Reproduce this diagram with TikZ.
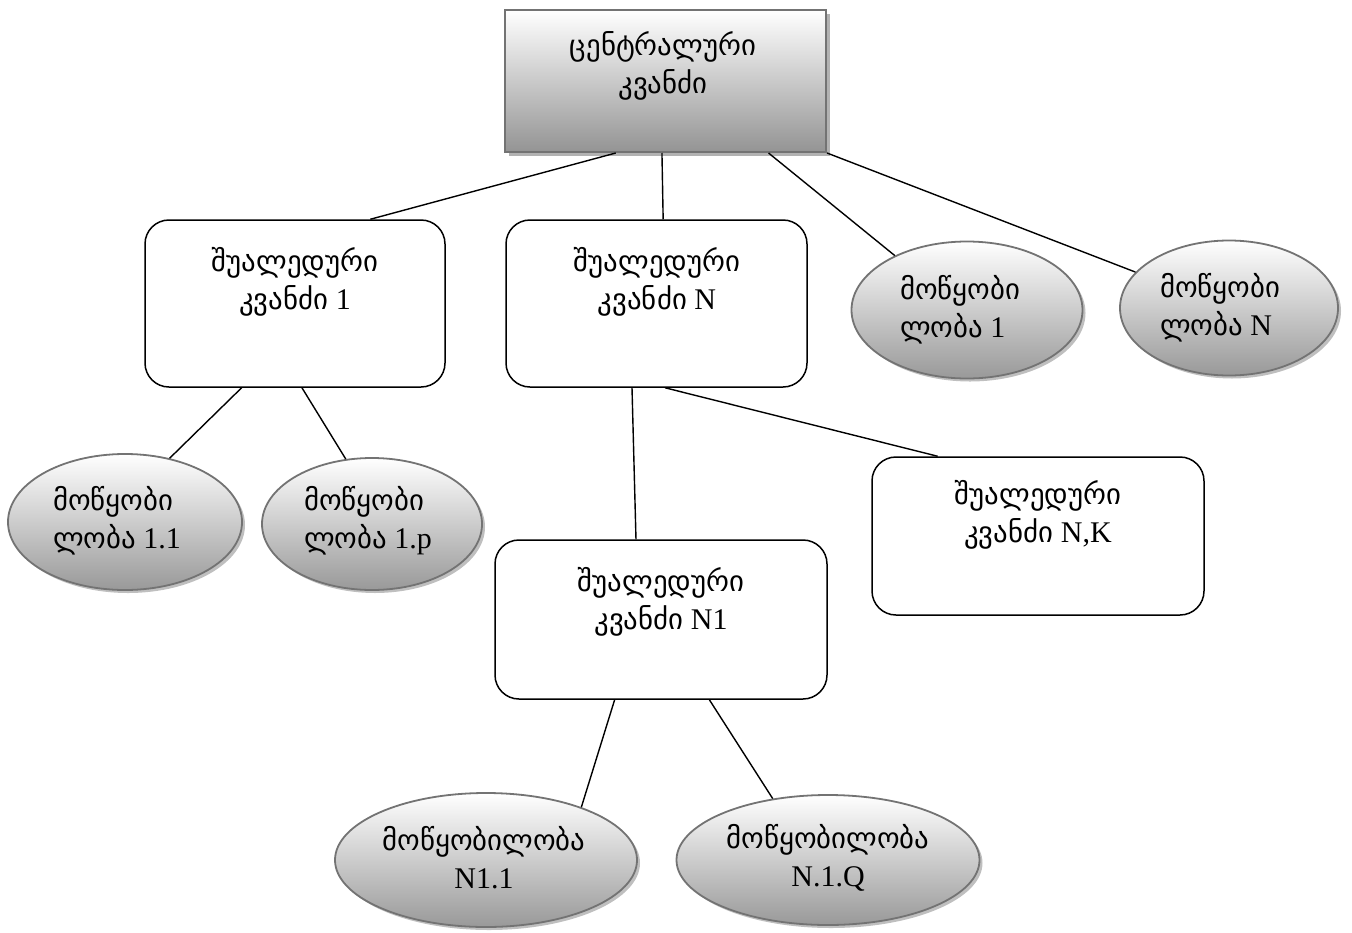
\documentclass[tikz,border=0pt]{standalone}
\usepackage{fontspec}
\setmainfont{Liberation Serif}
\newfontfamily\ka{DejaVu Sans}[Scale=0.96]
\usetikzlibrary{shapes.geometric,shadows,calc}
\newcommand\kt[1]{{\ka #1}}

\tikzset{
  hub/.style={rectangle, draw=black!55, line width=2pt, top color=white, bottom color=black!42,
    drop shadow={shadow xshift=4pt, shadow yshift=-4pt, fill=black!30, opacity=1},
    inner sep=0pt},
  dev/.style={ellipse, draw=black!55, line width=1.8pt, top color=white, bottom color=black!40,
    drop shadow={shadow xshift=3pt, shadow yshift=-3pt, fill=black!25, opacity=1},
    inner sep=0pt},
  mid/.style={rectangle, draw=black, rounded corners=24pt, line width=1.5pt, fill=white, inner sep=0pt},
  wire/.style={line width=1.4pt},
  lbl/.style={align=center, font=\fontsize{30}{38}\selectfont, inner sep=0pt},
  lbll/.style={align=left, font=\fontsize{30}{38}\selectfont, inner sep=0pt}
}

\begin{document}
\begin{tikzpicture}[x=1pt,y=-1pt]
\useasboundingbox (0,0) rectangle (1352,932);

% shapes
\node[hub, minimum width=321pt, minimum height=142pt] (c) at (665.5,81) {};
\node[mid, minimum width=300pt, minimum height=167pt] (m1) at (295,303.5) {};
\node[mid, minimum width=301pt, minimum height=167pt] (mN) at (656.5,303.5) {};
\node[mid, minimum width=332pt, minimum height=159pt] (mN1) at (661,619.5) {};
\node[mid, minimum width=332pt, minimum height=158pt] (mNK) at (1038,536) {};
\node[dev, minimum width=231pt, minimum height=137pt] (d1) at (967,310) {};
\node[dev, minimum width=218pt, minimum height=135pt] (dN) at (1229,308) {};
\node[dev, minimum width=234pt, minimum height=136pt] (d11) at (125,522) {};
\node[dev, minimum width=220pt, minimum height=132pt] (d1p) at (372,524) {};
\node[dev, minimum width=302pt, minimum height=134pt] (dN11) at (486,860) {};
\node[dev, minimum width=303pt, minimum height=130pt] (dN1Q) at (828,860) {};

% labels
\node[lbl] (tc) at (663,66) {\kt{ცენტრალური}\\\kt{კვანძი}};
\node[lbl] (tm1) at (295,282) {\kt{შუალედური}\\\kt{კვანძი} 1};
\node[lbl] (tmN) at (657,282) {\kt{შუალედური}\\\kt{კვანძი} N};
\node[lbl] (tmN1) at (661,602) {\kt{შუალედური}\\\kt{კვანძი} N1};
\node[lbl] (tmNK) at (1038,515) {\kt{შუალედური}\\\kt{კვანძი} N,K};
\node[lbll] (td1) at (960,310) {\kt{მოწყობი}\\\kt{ლობა} 1};
\node[lbll] (tdN) at (1220,308) {\kt{მოწყობი}\\\kt{ლობა} N};
\node[lbll] (td11) at (117,521) {\kt{მოწყობი}\\\kt{ლობა} 1.1};
\node[lbll] (td1p) at (368,521) {\kt{მოწყობი}\\\kt{ლობა} 1.p};
\node[lbl] (tdN11) at (484,858) {\kt{მოწყობილობა}\\N1.1};
\node[lbl] (tdN1Q) at (828,858) {\kt{მოწყობილობა}\\N.1.Q};

% connectors
\draw[wire] ($(c.south west)!0.346!(c.south east)$) -- ($(m1.north west)!0.75!(m1.north east)$);
\draw[wire] ($(c.south west)!0.489!(c.south east)$) -- ($(mN.north west)!0.522!(mN.north east)$);
\draw[wire] ($(c.south west)!0.819!(c.south east)$) -- (d1.143.5);
\draw[wire] (c.south east) -- (dN.159);
\draw[wire] ($(m1.south west)!0.323!(m1.south east)$) -- (d11.55);
\draw[wire] ($(m1.south west)!0.523!(m1.south east)$) -- (d1p.112);
\draw[wire] ($(mN.south west)!0.419!(mN.south east)$) -- ($(mN1.north west)!0.425!(mN1.north east)$);
\draw[wire] ($(mN.south west)!0.528!(mN.south east)$) -- ($(mNK.north west)!0.199!(mNK.north east)$);
\draw[wire] ($(mN1.south west)!0.361!(mN1.south east)$) -- (dN11.29);
\draw[wire] ($(mN1.south west)!0.645!(mN1.south east)$) -- (dN1Q.132);
\end{tikzpicture}
\end{document}
